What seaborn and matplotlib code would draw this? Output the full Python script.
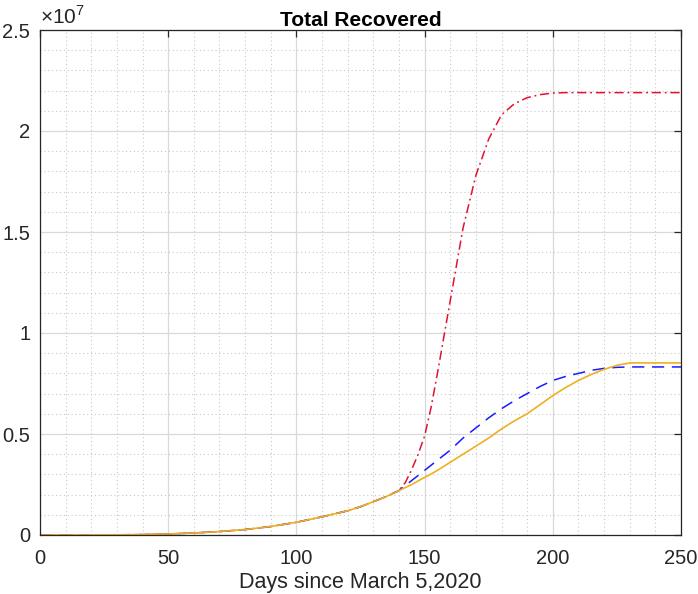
import numpy as np
import pandas as pd
import matplotlib
matplotlib.use("Agg")
import matplotlib.pyplot as plt
from matplotlib.ticker import MultipleLocator, FuncFormatter
import seaborn as sns

# -------------------------------
# Data (in units of 1e7)
# -------------------------------
days_early = [0, 10, 20, 30, 40, 50, 60, 70, 80, 90, 100, 110, 120, 125, 130, 135, 140]
base_early = [0, 0, 0.0005, 0.001, 0.002, 0.005, 0.01, 0.017, 0.027, 0.042,
              0.063, 0.09, 0.12, 0.14, 0.165, 0.19, 0.22]

days_late = [142.5, 145, 147.5, 150, 152.5, 155, 157.5, 160, 165, 170, 175, 180, 185, 190, 195,
             200, 205, 210, 215, 220, 225, 230, 235, 240, 245, 250]
red_late = [0.26, 0.325, 0.40, 0.49, 0.63, 0.80, 0.98, 1.16, 1.52, 1.78, 1.96, 2.08, 2.135, 2.165, 2.18,
            2.188, 2.19, 2.19, 2.19, 2.19, 2.19, 2.19, 2.19, 2.19, 2.19, 2.19]
blue_late = [0.245, 0.27, 0.295, 0.32, 0.345, 0.37, 0.395, 0.42, 0.48, 0.53, 0.58, 0.625, 0.665, 0.70, 0.735,
             0.765, 0.785, 0.80, 0.815, 0.825, 0.83, 0.832, 0.832, 0.832, 0.832, 0.832]
yellow_late = [0.235, 0.25, 0.268, 0.285, 0.302, 0.32, 0.34, 0.36, 0.40, 0.44, 0.48, 0.525, 0.565, 0.60, 0.645,
               0.69, 0.73, 0.765, 0.795, 0.82, 0.84, 0.852, 0.852, 0.852, 0.852, 0.852]

scale = 1e7
days = days_early + days_late
red = np.array(base_early + red_late) * scale
blue = np.array(base_early + blue_late) * scale
yellow = np.array(base_early + yellow_late) * scale

# -------------------------------
# Style
# -------------------------------
sns.set_theme(style="white")
plt.rcParams["font.family"] = ["Liberation Sans", "DejaVu Sans"]
plt.rcParams["mathtext.fontset"] = "custom"
plt.rcParams["mathtext.rm"] = "Liberation Sans"

fig = plt.figure(figsize=(6.98, 5.94), dpi=100)
ax = fig.add_axes([40 / 698, 59 / 594, 641 / 698, 505 / 594])

sns.lineplot(x=days, y=red, ax=ax, color="#e41030", lw=1.1,
             estimator=None, sort=False)
ax.lines[-1].set_dashes([6, 2.5, 1.2, 2.5])
sns.lineplot(x=days, y=blue, ax=ax, color="#1a1aff", lw=1.1,
             estimator=None, sort=False)
ax.lines[-1].set_dashes([8, 5])
sns.lineplot(x=days, y=yellow, ax=ax, color="#EDB120", lw=1.2,
             estimator=None, sort=False)

ax.set_xlim(0, 250)
ax.set_ylim(0, 2.5 * scale)
ax.xaxis.set_major_locator(MultipleLocator(50))
ax.xaxis.set_minor_locator(MultipleLocator(10))
ax.yaxis.set_major_locator(MultipleLocator(0.5 * scale))
ax.yaxis.set_minor_locator(MultipleLocator(0.1 * scale))
ax.yaxis.set_major_formatter(FuncFormatter(lambda v, p: f"{v / scale:g}"))

ax.grid(which="major", color="#d9d9d9", lw=0.9, ls="-")
ax.grid(which="minor", color="#c8c8c8", lw=0.8, ls=(0, (1, 2.5)))
ax.set_axisbelow(True)

ax.tick_params(which="major", direction="in", length=5, width=0.9,
               top=True, right=True, labelsize=14.5, colors="#262626")
ax.tick_params(axis="x", which="major", pad=10)
ax.tick_params(axis="y", which="major", pad=7)
ax.tick_params(which="minor", length=0, top=True, right=True)
for s in ax.spines.values():
    s.set_color("#262626")
    s.set_linewidth(0.9)

ax.set_title("Total Recovered", fontsize=15, fontweight="bold", color="black", pad=3)
ax.set_xlabel("Days since March 5,2020", fontsize=15.5, color="#262626", labelpad=3)
ax.set_ylabel("")
ax.text(0.0, 1.004, r"$\times10^{7}$", transform=ax.transAxes, fontsize=15,
        color="#262626", ha="left", va="bottom")

plt.savefig("out.png", dpi=100)
